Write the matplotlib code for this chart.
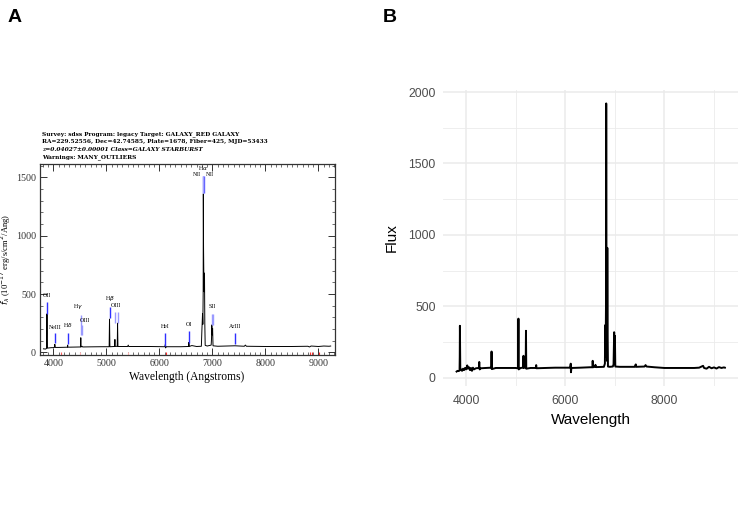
import matplotlib
matplotlib.use("Agg")
import matplotlib.pyplot as plt
from matplotlib.ticker import MultipleLocator

# --- Panel A: SDSS pipeline plot (flux as drawn, 1e-17 erg/s/cm2/Ang) ---
a_wave = [3810, 3850, 3870, 3874, 3877, 3881, 3885, 3920, 3960, 4000, 4020, 4025, 4032,
          4100, 4200, 4262, 4267, 4272, 4400, 4510, 4515, 4520, 4539, 4550, 4700, 4900,
          5050, 5057, 5064, 5150, 5159, 5166, 5203, 5209, 5216, 5400, 5410, 5420, 5800,
          6100, 6112, 6116, 6125, 6400, 6548, 6554, 6562, 6610, 6700, 6790, 6800, 6806,
          6812, 6818, 6824, 6827, 6831, 6836, 6842, 6849, 6855, 6862, 6900, 6975, 6982,
          6987, 6995, 7002, 7010, 7100, 7423, 7600, 7620, 7640, 8000, 8500, 8800, 8830,
          8860, 9000, 9100, 9200, 9230]
a_flux = [30, 28, 34, 160, 330, 120, 36, 38, 40, 40, 45, 68, 42,
          42, 43, 44, 62, 44, 45, 46, 125, 46, 52, 46, 47, 48,
          48, 285, 48, 50, 110, 50, 52, 250, 50, 50, 62, 50, 50,
          48, 70, 38, 48, 48, 50, 85, 50, 58, 50, 52, 190, 260,
          330, 240, 500, 1360, 900, 680, 520, 680, 250, 60, 54, 62, 120,
          235, 150, 205, 56, 52, 56, 52, 62, 52, 50, 50, 52, 46,
          54, 50, 54, 52, 54]

# line markers: wavelength, bottom, top, color
mark_wave = [3877, 4025, 4267, 4515, 4539, 5057, 5159, 5209, 6112, 6554,
             6812, 6827, 6849, 6987, 7002, 7423]
mark_low = [330, 77, 75, 150, 150, 292, 250, 250, 50, 80,
            1370, 1370, 1370, 235, 235, 72]
mark_high = [435, 163, 169, 320, 235, 391, 349, 349, 163, 186,
             1514, 1514, 1514, 329, 329, 163]
mark_color = ["#2f2fff", "#2f2fff", "#2f2fff", "#9a9aff", "#9a9aff", "#2f2fff",
              "#9a9aff", "#9a9aff", "#2f2fff", "#2f2fff",
              "#6666ff", "#b0b0ff", "#6666ff", "#9a9aff", "#9a9aff", "#2f2fff"]

# line labels: text, wavelength, height
label_text = ["OII", "NeIII", "H$\\delta$", "H$\\gamma$", "OIII", "H$\\beta$", "OIII",
              "HeI", "OI", "H$\\alpha$", "NII", "NII", "SII", "ArIII"]
label_wave = [3877, 4025, 4267, 4470, 4590, 5057, 5184, 6112, 6554, 6827, 6705, 6955,
              6995, 7423]
label_y = [463, 191, 200, 352, 254, 420, 377, 197, 220, 1550, 1500, 1500, 369, 197]

bad_wave = [4138, 4497, 5403, 6132, 8843, 8881, 9013]
bad_color = ["#ff6060", "#ffb0b0", "#ffb0b0", "#ff3030", "#ff3030", "#ff3030", "#ff3030"]

header = ["Survey: sdss Program: legacy Target: GALAXY_RED GALAXY",
          "RA=229.52556, Dec=42.74585, Plate=1678, Fiber=425, MJD=53433",
          "z=0.04027\u00b10.00001 Class=GALAXY STARBURST",
          "Warnings: MANY_OUTLIERS"]

# --- Panel B: flux vs wavelength ---
b_wave = [3810, 3830, 3850, 3870, 3874, 3877, 3881, 3885, 3900, 3920, 3940, 3960, 3980,
          4000, 4020, 4025, 4035, 4060, 4080, 4100, 4120, 4140, 4160, 4200, 4260, 4267,
          4275, 4300, 4400, 4510, 4515, 4520, 4600, 4800, 5000, 5050, 5057, 5063, 5100,
          5150, 5159, 5165, 5203, 5209, 5215, 5300, 5410, 5415, 5420, 5600, 5800, 6000,
          6100, 6112, 6116, 6125, 6300, 6500, 6550, 6554, 6560, 6600, 6610, 6620, 6780,
          6800, 6808, 6815, 6822, 6827, 6832, 6842, 6849, 6856, 6862, 6900, 6960, 6975,
          6987, 6994, 7002, 7010, 7100, 7400, 7423, 7430, 7600, 7620, 7640, 7800, 8000,
          8200, 8400, 8600, 8700, 8780, 8800, 8850, 8900, 8950, 9000, 9050, 9100, 9150,
          9200, 9220]
b_flux = [45, 50, 48, 52, 150, 365, 200, 55, 60, 50, 65, 55, 70,
          60, 80, 88, 65, 75, 55, 70, 50, 72, 60, 68, 70, 112,
          60, 68, 70, 72, 185, 62, 70, 70, 70, 68, 415, 60, 70,
          72, 155, 70, 75, 330, 65, 70, 70, 90, 68, 70, 72, 72,
          72, 100, 40, 70, 72, 75, 75, 120, 75, 78, 92, 76, 78,
          100, 370, 150, 500, 1920, 700, 120, 910, 300, 80, 78, 80, 95,
          320, 100, 295, 80, 78, 78, 95, 78, 80, 90, 80, 75, 70,
          70, 70, 70, 72, 85, 70, 65, 78, 68, 74, 66, 76, 70,
          74, 72]

fig = plt.figure(figsize=(7.47, 5.18), dpi=100)
W, H = 747, 518


def px_axes(left, top, right, bottom):
    return fig.add_axes([left / W, 1 - bottom / H, (right - left) / W, (bottom - top) / H])


serif = ["Liberation Serif", "DejaVu Serif"]

# ---------- Panel A ----------
axA = px_axes(39.5, 163.5, 334.5, 355)
axA.plot(a_wave, a_flux, color="black", lw=0.7)
axA.vlines(mark_wave, mark_low, mark_high, colors=mark_color, lw=1.0)
axA.vlines(bad_wave, -23, 0, colors=bad_color, lw=0.8)
for txt, w, y in zip(label_text, label_wave, label_y):
    axA.text(w, y, txt, fontsize=4.2, family=serif, ha="center", va="bottom")
axA.set_xlim(3736, 9302)
axA.set_ylim(-23, 1620)
axA.xaxis.set_major_locator(MultipleLocator(1000))
axA.xaxis.set_minor_locator(MultipleLocator(100))
axA.yaxis.set_major_locator(MultipleLocator(500))
axA.yaxis.set_minor_locator(MultipleLocator(100))
axA.tick_params(which="both", direction="in", top=True, right=True, colors="#333333",
                labelsize=7.2, pad=3)
axA.tick_params(axis="y", pad=2.5)
axA.tick_params(which="major", length=5, width=0.7)
axA.tick_params(which="minor", length=2.2, width=0.5)
for lab in axA.get_xticklabels() + axA.get_yticklabels():
    lab.set_family(serif)
for sp in axA.spines.values():
    sp.set_linewidth(0.9)
    sp.set_color("#333333")
axA.set_xlabel("Wavelength (Angstroms)", family=serif, fontsize=8.3, labelpad=2)
axA.set_ylabel("$f_\\lambda$ (10$^{-17}$ erg/s/cm$^2$/Ang)", family=serif, fontsize=6.2)
axA.yaxis.set_label_coords(-0.09, 0.5)
for i, line in enumerate(header):
    fig.text(41.7 / W, 1 - (134 + 7.6 * i) / H, line, fontsize=4.2,
             family=["DejaVu Serif"], weight="bold",
             style="italic" if i == 2 else "normal", va="center", ha="left")

# ---------- Panel B ----------
axB = px_axes(442.7, 90, 738.3, 385.7)
axB.set_facecolor("white")
axB.plot(b_wave, b_flux, color="black", lw=1.4)
axB.set_xlim(3530, 9490)
axB.set_ylim(-54, 2014)
axB.xaxis.set_major_locator(MultipleLocator(2000))
axB.xaxis.set_minor_locator(MultipleLocator(1000))
axB.yaxis.set_major_locator(MultipleLocator(500))
axB.yaxis.set_minor_locator(MultipleLocator(250))
axB.grid(which="major", color="#ebebeb", lw=1.1)
axB.grid(which="minor", color="#ebebeb", lw=0.6)
axB.set_axisbelow(True)
for sp in axB.spines.values():
    sp.set_visible(False)
axB.tick_params(which="both", length=0, labelsize=8.8, labelcolor="#4d4d4d")
axB.tick_params(axis="x", pad=7)
axB.tick_params(axis="y", pad=5)
for lab in axB.get_xticklabels() + axB.get_yticklabels():
    lab.set_family("Liberation Sans")
axB.set_xlabel("Wavelength", family="Liberation Sans", fontsize=11, labelpad=4)
axB.set_ylabel("Flux", family="Liberation Sans", fontsize=11, labelpad=7)

fig.text(8 / W, 1 - 17 / H, "A", fontsize=14, weight="bold", family="Liberation Sans",
         va="center", ha="left")
fig.text(383 / W, 1 - 17 / H, "B", fontsize=14, weight="bold", family="Liberation Sans",
         va="center", ha="left")

fig.savefig("out.png", dpi=100)
